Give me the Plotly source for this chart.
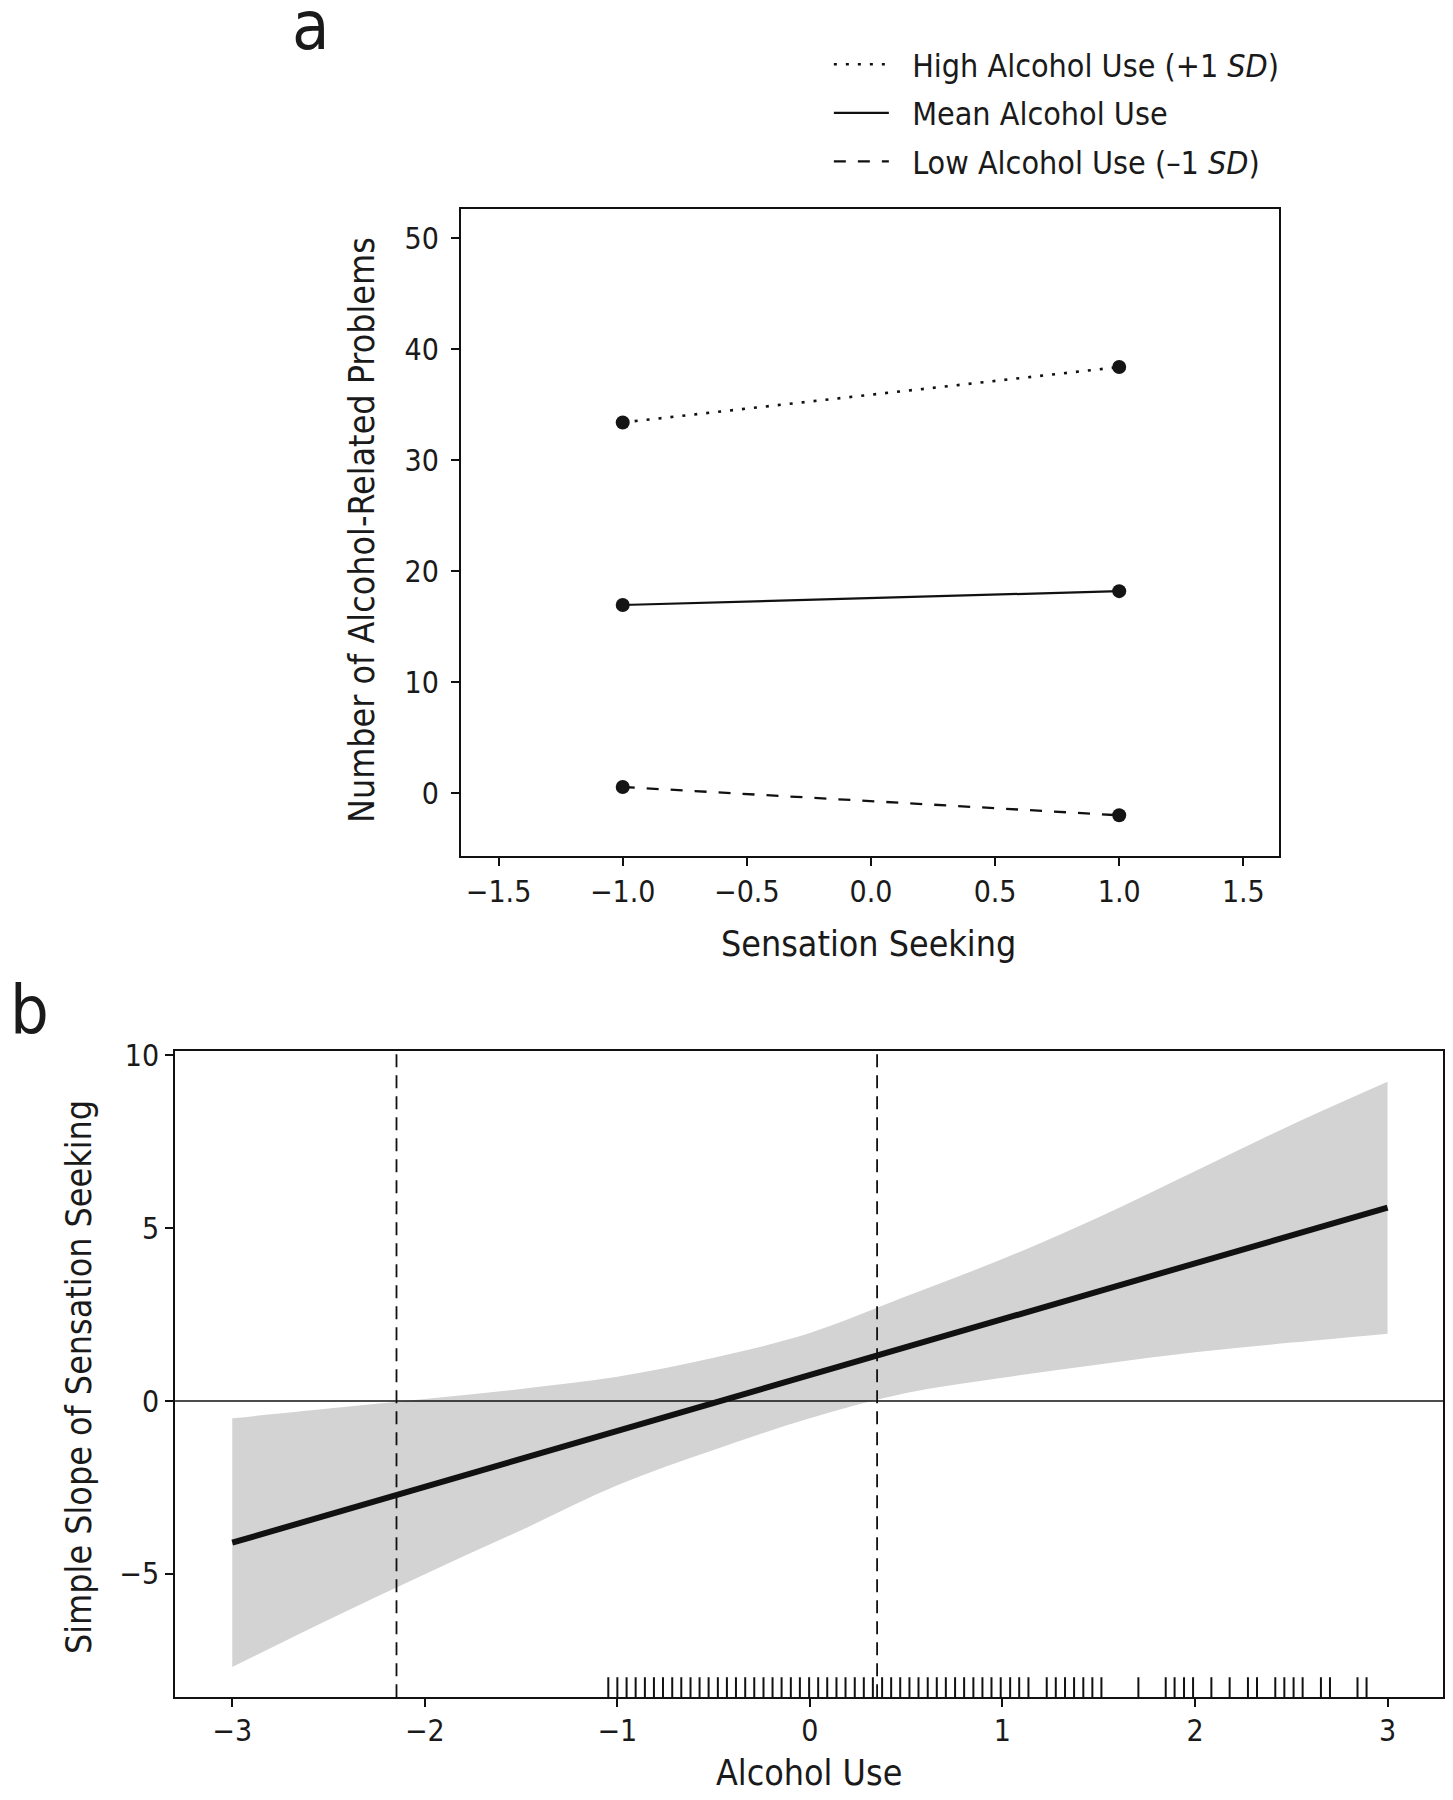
import plotly.graph_objects as go

# ---------------- data ----------------
sensation_levels = [-1.0, 1.0]
high_use = [33.4, 38.4]
mean_use = [16.95, 18.2]
low_use = [0.55, -2.0]
series_names = ["High Alcohol Use (+1 <i>SD</i>)", "Mean Alcohol Use",
                "Low Alcohol Use (\u20131 <i>SD</i>)"]

alcohol_x = [-3.0, -2.5, -2.0, -1.5, -1.0, -0.5, 0.0, 0.5, 1.0, 1.5, 2.0, 2.5, 3.0]
ci_upper = [-0.50, -0.22, 0.06, 0.35, 0.70, 1.25, 1.97, 3.03, 4.11, 5.32, 6.65, 7.99, 9.24]
ci_lower = [-7.70, -6.33, -5.01, -3.74, -2.44, -1.42, -0.50, 0.23, 0.67, 1.06, 1.41, 1.69, 1.95]
slope_x = [-3.0, 3.0]
slope_y = [-4.10, 5.60]
jn_bounds = [-2.147, 0.349]
rug_x = [-1.047, -1.000, -0.952, -0.905, -0.857, -0.810, -0.763, -0.715, -0.668, -0.620,
         -0.573, -0.526, -0.478, -0.431, -0.384, -0.336, -0.289, -0.241, -0.194, -0.147,
         -0.099, -0.052, -0.004, 0.043, 0.090, 0.138, 0.185, 0.233, 0.280, 0.327,
         0.375, 0.422, 0.469, 0.517, 0.564, 0.612, 0.659, 0.706, 0.754, 0.801,
         0.849, 0.896, 0.943, 0.991, 1.040, 1.087, 1.135, 1.230, 1.277, 1.325,
         1.372, 1.420, 1.467, 1.514, 1.706, 1.848, 1.894, 1.943, 1.990, 2.085,
         2.180, 2.275, 2.322, 2.417, 2.464, 2.512, 2.559, 2.654, 2.701, 2.844, 2.891]

a_xticks = [-1.5, -1.0, -0.5, 0.0, 0.5, 1.0, 1.5]
a_yticks = [0, 10, 20, 30, 40, 50]
b_xticks = [-3, -2, -1, 0, 1, 2, 3]
b_yticks = [-5, 0, 5, 10]

# ---------------- layout helpers ----------------
OFF_X = 8
OFF_Y = 18.8
W, H = 1437, 1784
H_EFF = 1773.7
FONT = "Liberation Sans Narrow, DejaVu Sans Condensed, Arial Narrow, sans-serif"
TXT = "#1a1a1a"
NB = "\u00a0"


def fx(px):
    return (px - OFF_X) / W


def fy(py):
    return 1 - (py - OFF_Y) / H_EFF


A_BOX = (461.5, 1280.6, 207.3, 855.3)   # left, right, top, bottom (page px)
B_BOX = (175.3, 1445.0, 1050.7, 1697.5)
A_XR, A_YR = [-1.652, 1.643], [-5.69, 52.62]
B_XR, B_YR = [-3.297, 3.288], [-8.57, 10.12]

fig = go.Figure()

# ---------------- panel a ----------------
styles = [dict(dash="3px,9px", width=2.6), dict(dash="solid", width=2.2),
          dict(dash="12px,12px", width=2.3)]
for i, (name, vals, st) in enumerate(zip(series_names, [high_use, mean_use, low_use], styles)):
    fig.add_trace(go.Scatter(x=sensation_levels, y=vals, mode="lines", name=NB * 2 + name,
                             legendgroup="g%d" % i,
                             line=dict(color="#111111", **st), xaxis="x", yaxis="y",
                             showlegend=True))
for vals in [high_use, mean_use, low_use]:
    fig.add_trace(go.Scatter(x=sensation_levels, y=vals, mode="markers",
                             marker=dict(color="#151515", size=14), xaxis="x", yaxis="y",
                             showlegend=False))

# ---------------- panel b ----------------
fig.add_trace(go.Scatter(x=alcohol_x, y=ci_lower, mode="lines", line=dict(width=0, shape="spline"),
                         xaxis="x2", yaxis="y2", showlegend=False, hoverinfo="skip"))
fig.add_trace(go.Scatter(x=alcohol_x, y=ci_upper, mode="lines", line=dict(width=0, shape="spline"),
                         fill="tonexty", fillcolor="#d3d3d3",
                         xaxis="x2", yaxis="y2", showlegend=False, hoverinfo="skip"))

rug_len = 20 * (B_YR[1] - B_YR[0]) / (B_BOX[3] - B_BOX[2])
rx, ry = [], []
for v in rug_x:
    rx += [v, v, None]
    ry += [B_YR[0], B_YR[0] + rug_len, None]
fig.add_trace(go.Scatter(x=rx, y=ry, mode="lines", line=dict(color="#111111", width=2),
                         xaxis="x2", yaxis="y2", showlegend=False, hoverinfo="skip"))

fig.add_trace(go.Scatter(x=slope_x, y=slope_y, mode="lines", line=dict(color="#111111", width=6),
                         xaxis="x2", yaxis="y2", showlegend=False))

shapes = [dict(type="line", xref="x2 domain", x0=0, x1=1, yref="y2", y0=0, y1=0,
               line=dict(color="#111111", width=1.6), layer="above")]
for jx in jn_bounds:
    shapes.append(dict(type="line", xref="x2", x0=jx, x1=jx, yref="y2 domain", y0=0, y1=1,
                       line=dict(color="#111111", width=1.8, dash="13px,8px"), layer="above"))

axis_common = dict(showline=True, linecolor="#111111", linewidth=2, mirror=True,
                   ticks="outside", ticklen=8, tickwidth=1.8, tickcolor="#111111",
                   showgrid=False, zeroline=False,
                   tickfont=dict(family=FONT, size=30, color=TXT))

fig.update_layout(
    width=W, height=H, margin=dict(l=0, r=0, t=0, b=0),
    paper_bgcolor="white", plot_bgcolor="white",
    xaxis=dict(domain=[fx(A_BOX[0]), fx(A_BOX[1])], range=A_XR, anchor="y",
               tickvals=a_xticks, tickformat=".1f", ticklabelstandoff=0, **axis_common),
    yaxis=dict(domain=[fy(A_BOX[3]), fy(A_BOX[2])], range=A_YR, anchor="x",
               tickvals=a_yticks, ticklabelstandoff=6, **axis_common),
    xaxis2=dict(domain=[fx(B_BOX[0]), fx(B_BOX[1])], range=B_XR, anchor="y2",
                tickvals=b_xticks, ticklabelstandoff=-2, **axis_common),
    yaxis2=dict(domain=[fy(B_BOX[3]), fy(B_BOX[2])], range=B_YR, anchor="x2",
                tickvals=b_yticks, ticklabelstandoff=0, **axis_common),
    shapes=shapes,
    showlegend=True,
    legend=dict(x=fx(830), y=fy(34.7), xanchor="left", yanchor="top",
                font=dict(family=FONT, size=32, color=TXT), bgcolor="rgba(0,0,0,0)",
                itemwidth=55, tracegroupgap=4, traceorder="grouped"),
)

ann = []
ann.append(dict(text="a", x=fx(311), y=fy(23), xref="paper", yref="paper",
                xanchor="center", yanchor="middle", showarrow=False,
                font=dict(family=FONT, size=68, color=TXT)))
ann.append(dict(text="b", x=0, y=fy(1010), xref="paper", yref="paper",
                xanchor="left", yanchor="middle", showarrow=False,
                font=dict(family=FONT, size=68, color=TXT)))
ann.append(dict(text="Sensation Seeking", x=fx(870), y=fy(943), xref="paper", yref="paper",
                xanchor="center", yanchor="middle", showarrow=False,
                font=dict(family=FONT, size=35.5, color=TXT)))
ann.append(dict(text="Number of Alcohol-Related Problems", x=fx(362), y=fy(529),
                xref="paper", yref="paper", textangle=-90,
                xanchor="center", yanchor="middle", showarrow=False,
                font=dict(family=FONT, size=35.5, color=TXT)))
ann.append(dict(text="Alcohol Use", x=fx(810), y=fy(1773), xref="paper", yref="paper",
                xanchor="center", yanchor="middle", showarrow=False,
                font=dict(family=FONT, size=35.5, color=TXT)))
ann.append(dict(text="Simple Slope of Sensation Seeking", x=fx(78), y=fy(1377),
                xref="paper", yref="paper", textangle=-90,
                xanchor="center", yanchor="middle", showarrow=False,
                font=dict(family=FONT, size=35.5, color=TXT)))
fig.update_layout(annotations=ann)

fig.write_html("out.html")
